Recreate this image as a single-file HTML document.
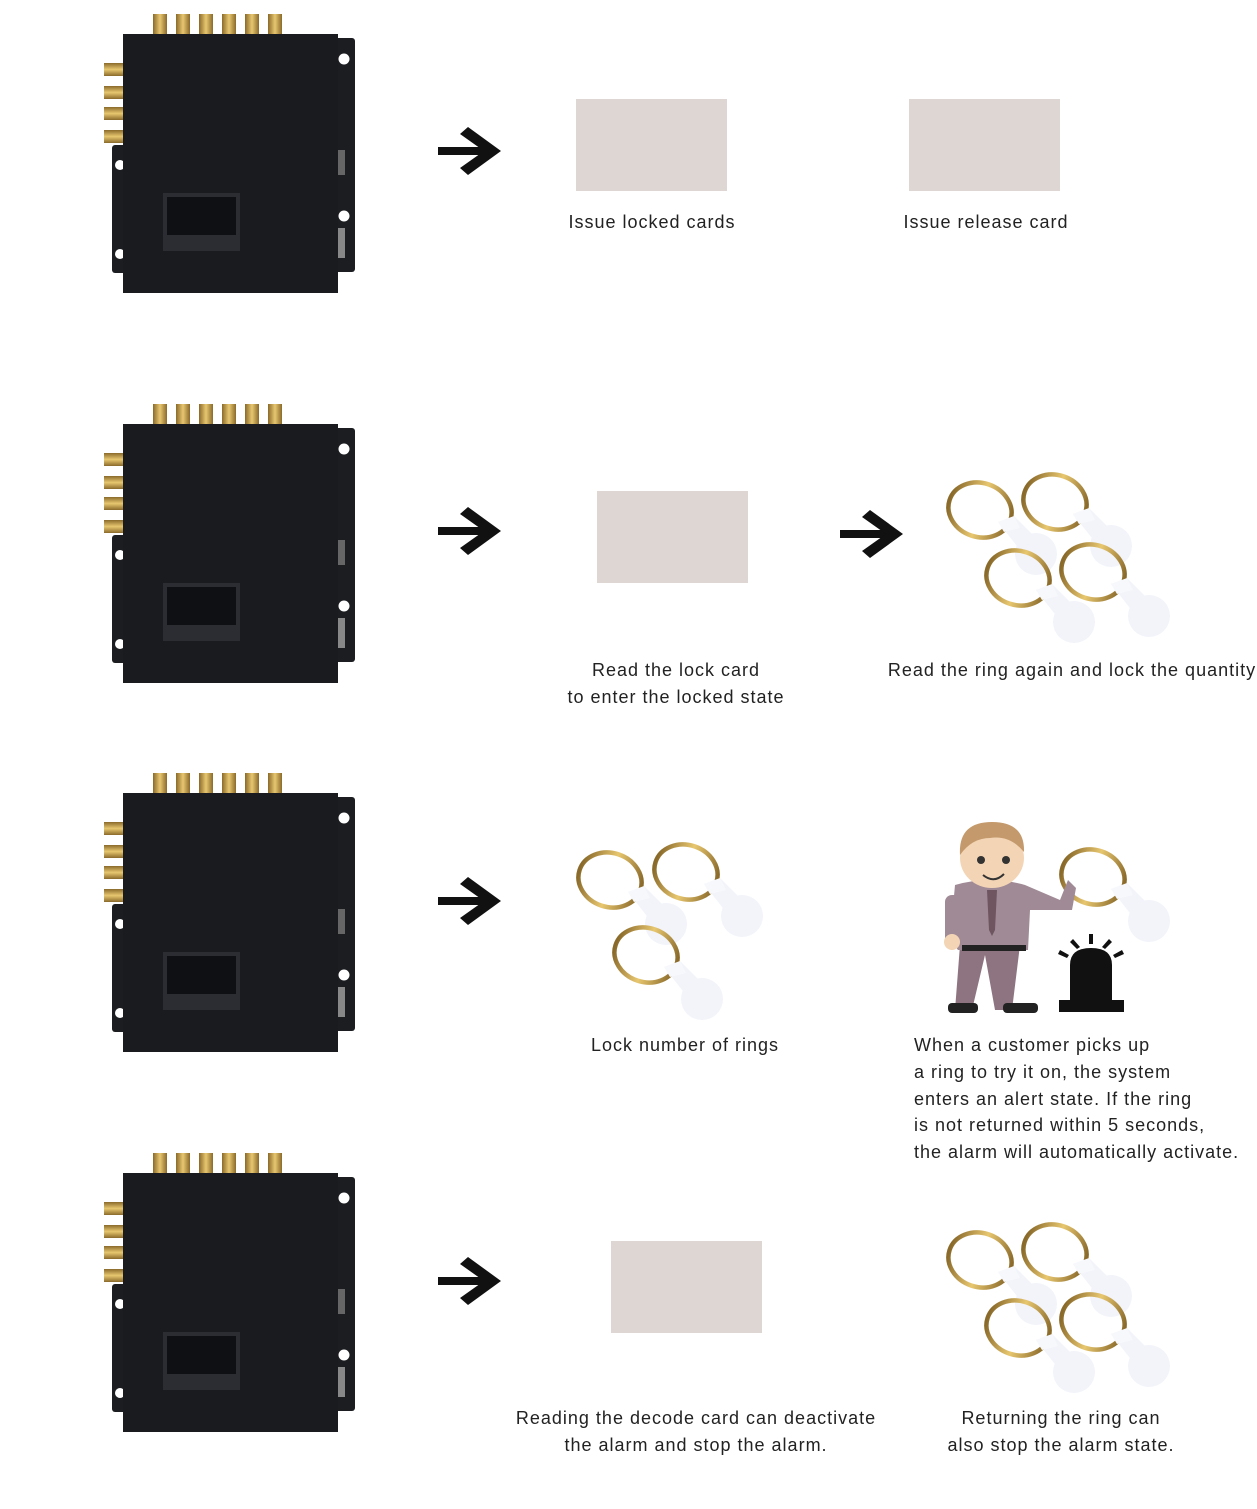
<!DOCTYPE html>
<html><head><meta charset="utf-8"><style>
html,body{margin:0;padding:0;background:#fff;}
svg{display:block}
text{font-family:"Liberation Sans",sans-serif;font-size:18px;letter-spacing:1px;fill:#222;text-anchor:middle}
</style></head><body>
<svg width="1257" height="1509" viewBox="0 0 1257 1509" xmlns="http://www.w3.org/2000/svg">
<defs>
<linearGradient id="gold" x1="0" x2="1"><stop offset="0" stop-color="#8a6a2a"/><stop offset=".5" stop-color="#e8c770"/><stop offset="1" stop-color="#8a6a2a"/></linearGradient>
<linearGradient id="goldv" x1="0" y1="0" x2="0" y2="1"><stop offset="0" stop-color="#8a6a2a"/><stop offset=".5" stop-color="#e8c770"/><stop offset="1" stop-color="#8a6a2a"/></linearGradient>
<g id="dev">
  <rect x="335" y="38" width="20" height="234" rx="3" fill="#1c1d20"/>
  <rect x="112" y="145" width="20" height="128" rx="3" fill="#1c1d20"/>
  <circle cx="344" cy="59" r="5.5" fill="#fff"/><circle cx="344" cy="216" r="5.5" fill="#fff"/>
  <circle cx="120" cy="165" r="5" fill="#fff"/><circle cx="120" cy="254" r="5" fill="#fff"/>
  <g fill="url(#gold)">
    <rect x="153" y="14" width="14" height="22"/><rect x="176" y="14" width="14" height="22"/><rect x="199" y="14" width="14" height="22"/><rect x="222" y="14" width="14" height="22"/><rect x="245" y="14" width="14" height="22"/><rect x="268" y="14" width="14" height="22"/>
  </g>
  <g fill="url(#goldv)">
    <rect x="104" y="63" width="24" height="13"/><rect x="104" y="86" width="24" height="13"/><rect x="104" y="107" width="24" height="13"/><rect x="104" y="130" width="24" height="13"/>
  </g>
  <rect x="123" y="34" width="215" height="259" fill="#1a1b1e"/>
  <rect x="338" y="150" width="7" height="25" fill="#666"/><rect x="338" y="228" width="7" height="30" fill="#888"/>
  <rect x="163" y="193" width="77" height="58" fill="#2b2d33"/>
  <rect x="167" y="197" width="69" height="38" fill="#0f1013"/>
</g>
<g id="arr"><rect x="0" y="-4" width="50" height="8" fill="#111"/><path d="M30,-24 L63,0 L30,24 L22,17 L46,0 L22,-17Z" fill="#111"/></g>
<g id="ring">
  <path d="M18,12 L34,6 L60,32 Q52,48 40,40 Z" fill="#f2f4fa"/>
  <circle cx="56" cy="44" r="21" fill="#f2f4fa"/>
  <ellipse cx="0" cy="0" rx="32" ry="27" transform="rotate(18)" fill="none" stroke="url(#gold)" stroke-width="4.5"/>
  <path d="M18,12 L34,6 L40,18 L24,22Z" fill="#f7f8fc"/>
</g>
</defs>

<use href="#dev"/>
<use href="#dev" y="390"/>
<use href="#dev" y="759"/>
<use href="#dev" y="1139"/>

<use href="#arr" x="438" y="151"/>
<use href="#arr" x="438" y="531"/>
<use href="#arr" x="438" y="901"/>
<use href="#arr" x="438" y="1281"/>
<use href="#arr" x="840" y="534"/>

<g fill="#ddd6d2">
<rect x="576" y="99" width="151" height="92"/>
<rect x="909" y="99" width="151" height="92"/>
<rect x="597" y="491" width="151" height="92"/>
<rect x="611" y="1241" width="151" height="92"/>
</g>

<use href="#ring" x="980" y="510"/><use href="#ring" x="1055" y="502"/><use href="#ring" x="1018" y="578"/><use href="#ring" x="1093" y="572"/>
<use href="#ring" x="610" y="880"/><use href="#ring" x="686" y="872"/><use href="#ring" x="646" y="955"/>
<use href="#ring" x="980" y="1260"/><use href="#ring" x="1055" y="1252"/><use href="#ring" x="1018" y="1328"/><use href="#ring" x="1093" y="1322"/>

<use href="#ring" x="1093" y="877"/>
<g>
  <path d="M960,945 L955,1010 L972,1010 L985,955 L995,1010 L1012,1010 L1020,945Z" fill="#8e7480"/>
  <rect x="948" y="1003" width="30" height="10" rx="4" fill="#222"/><rect x="1003" y="1003" width="35" height="10" rx="4" fill="#222"/>
  <path d="M955,885 Q990,875 1025,885 L1060,900 L1068,880 L1076,888 L1072,910 L1030,910 L1028,950 L958,950 L950,940Z" fill="#a08a95"/>
  <rect x="945" y="895" width="16" height="50" rx="7" fill="#a08a95"/>
  <circle cx="952" cy="942" r="8" fill="#f3d5b5"/>
  <rect x="962" y="945" width="64" height="6" fill="#222"/>
  <path d="M987,890 L997,890 L995,930 L992,936 L989,930Z" fill="#6e5560"/>
  <ellipse cx="992" cy="858" rx="32" ry="30" fill="#f3d5b5"/>
  <path d="M960,855 Q958,822 992,822 Q1025,822 1024,852 Q1010,835 990,838 Q972,838 960,855Z" fill="#c49a6c"/>
  <circle cx="981" cy="860" r="4" fill="#333"/><circle cx="1006" cy="860" r="4" fill="#333"/>
  <path d="M983,875 Q994,884 1004,874" stroke="#333" stroke-width="2" fill="none"/>
</g>
<g fill="#111">
  <path d="M1070,1000 L1070,965 Q1070,948 1091,948 Q1112,948 1112,965 L1112,1000Z"/>
  <rect x="1059" y="1000" width="65" height="12"/>
  <rect x="1089" y="934" width="4" height="10"/>
  <path d="M1070,942 l3,-3 l7,8 l-3,2z M1112,942 l-3,-3 l-7,8 l3,2z M1058,954 l2,-4 l9,5 l-2,3z M1124,954 l-2,-4 l-9,5 l2,3z"/>
</g>

<text x="652" y="228">Issue locked cards</text>
<text x="986" y="228">Issue release card</text>
<text x="676" y="676">Read the lock card</text>
<text x="676" y="703">to enter the locked state</text>
<text x="1072" y="676">Read the ring again and lock the quantity</text>
<text x="685" y="1051">Lock number of rings</text>
<text x="914" y="1051" style="text-anchor:start">When a customer picks up</text>
<text x="914" y="1078" style="text-anchor:start">a ring to try it on, the system</text>
<text x="914" y="1105" style="text-anchor:start">enters an alert state. If the ring</text>
<text x="914" y="1131" style="text-anchor:start">is not returned within 5 seconds,</text>
<text x="914" y="1158" style="text-anchor:start">the alarm will automatically activate.</text>
<text x="696" y="1424">Reading the decode card can deactivate</text>
<text x="696" y="1451">the alarm and stop the alarm.</text>
<text x="1061" y="1424">Returning the ring can</text>
<text x="1061" y="1451">also stop the alarm state.</text>
</svg>
</body></html>
